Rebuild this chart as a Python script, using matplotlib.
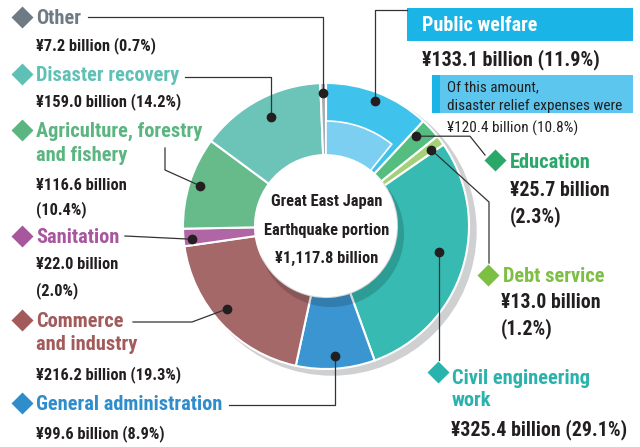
import matplotlib
matplotlib.use("Agg")
import matplotlib.pyplot as plt
import numpy as np
from matplotlib.patches import Circle, Rectangle

W, H = 640, 447

# data, clockwise from 12 o'clock
categories = ["Public welfare", "Education", "Debt service", "Civil engineering\nwork",
              "General administration", "Commerce\nand industry", "Sanitation",
              "Agriculture, forestry\nand fishery", "Disaster recovery", "Other"]
amounts = [133.1, 25.7, 13.0, 325.4, 99.6, 216.2, 22.0, 116.6, 159.0, 7.2]
shares = [11.9, 2.3, 1.2, 29.1, 8.9, 19.3, 2.0, 10.4, 14.2, 0.7]
total = 1117.8
relief_amount = 120.4
relief_share = 10.8

wedge_colors = ["#3fc3ec", "#55bd80", "#a5d07a", "#36bab2", "#3a95d0",
                "#a46869", "#b066a4", "#67bb8a", "#6cc3b8", "#a7aeb2"]
label_colors = ["#1ab5e6", "#2aa86a", "#7cbf42", "#2ab3ac", "#2f8dcc",
                "#a25a5b", "#a8569d", "#5bb580", "#5fc0b6", "#6e7b84"]

FONT = ["Roboto Condensed", "DejaVu Sans"]
DARK = "#231f20"

# layout (pixel coords, y down): diamond, text x, title baselines, value x, value baselines,
# value font size
layout = {
    1: dict(dia=(495, 160), tx=510, tys=[168], vx=510, vys=[196, 222], split=True, vs=14.3),
    2: dict(dia=(488, 275), tx=503, tys=[282], vx=501, vys=[308, 334], split=True, vs=14.3),
    3: dict(dia=(438, 372), tx=452, tys=[384, 406], vx=451, vys=[435], split=False, vs=14.3),
    4: dict(dia=(22, 403), tx=36, tys=[410], vx=36, vys=[438], split=False, vs=11.8),
    5: dict(dia=(22, 320), tx=36, tys=[327, 350], vx=36, vys=[379], split=False, vs=11.8),
    6: dict(dia=(22, 236), tx=36, tys=[243], vx=36, vys=[269, 295], split=True, vs=11.8),
    7: dict(dia=(22, 130), tx=36, tys=[137, 161], vx=36, vys=[190, 214], split=True, vs=11.8),
    8: dict(dia=(22, 74), tx=36, tys=[81], vx=36, vys=[106], split=False, vs=11.8),
    9: dict(dia=(22, 17), tx=36, tys=[24], vx=36, vys=[50], split=False, vs=11.8),
}
# dot radius, angle nudge, leader route (None = reuse dot coordinate)
leaders = {
    0: (134, 0, [(None, 10), (407, 10)]),
    1: (127, 2, [(470, None), (485, 155)]),
    2: (130, -1, [(489, 202), (489, 263)]),
    3: (116, 5, [(None, 360)]),
    4: (130, 0, [(None, 405), (229, 405)]),
    5: (129, -3, [(192, 322), (133, 322)]),
    6: (135, 1, [(125, 236)]),
    7: (132, 0, [(165, 170), (165, 148)]),
    8: (122, -1, [(None, 77), (185, 77)]),
    9: (133, 0, [(None, 17), (88, 17)]),
}


def Y(y):
    return H - y


fig = plt.figure(figsize=(6.4, 4.47), dpi=100)
ax = fig.add_axes([0, 0, 1, 1])

cx, cy = 326, Y(226)
r_out, r_in = 143, 71

ax.add_patch(Circle((cx + 6, cy - 5), r_out + 1, color="#cfd0d2", zorder=0.5))
wedges, _ = ax.pie(amounts, colors=wedge_colors, startangle=90, counterclock=False,
                   center=(cx, cy), radius=r_out,
                   wedgeprops=dict(width=r_out - r_in, edgecolor="white", linewidth=1.5))
sub, _ = ax.pie([relief_amount, total - relief_amount], colors=["#7ccff1", "white"],
                startangle=90, counterclock=False, center=(cx, cy), radius=105,
                wedgeprops=dict(width=105 - r_in, edgecolor="white", linewidth=1.2))
sub[1].set_visible(False)

# inner hole with shadow
ax.add_patch(Circle((cx + 5, cy - 8), r_in + 2, color="black", alpha=0.16, lw=0, zorder=3))
ax.add_patch(Circle((cx, cy), r_in, color="white", lw=0, zorder=4))

ax.set_xlim(0, W)
ax.set_ylim(0, H)
ax.set_aspect("equal")
ax.axis("off")

for txt, by in zip(["Great East Japan", "Earthquake portion", f"¥{total:,.1f} billion"],
                   [206, 235, 263]):
    ax.text(327, Y(by), txt, ha="center", va="baseline", fontsize=11.8,
            fontweight="bold", family=FONT, color=DARK, zorder=5)

# leader lines and dots
for i, (r, nudge, route) in leaders.items():
    w = wedges[i]
    ang = np.deg2rad((w.theta1 + w.theta2) / 2 + nudge)
    dx, dy = cx + r * np.cos(ang), cy + r * np.sin(ang)
    xs, ys = [dx], [dy]
    for px, py in route:
        xs.append(dx if px is None else px)
        ys.append(dy if py is None else Y(py))
    ax.plot(xs, ys, color="#333333", lw=0.9, zorder=6)
    ax.plot(dx, dy, "o", color=DARK, ms=6, zorder=7)

# category labels
for i, lay in layout.items():
    ax.plot(lay["dia"][0], Y(lay["dia"][1]), "D", color=label_colors[i], ms=11,
            mec="none", zorder=6)
    for line, by in zip(categories[i].split("\n"), lay["tys"]):
        ax.text(lay["tx"], Y(by), line, ha="left", va="baseline", fontsize=14.7,
                fontweight="bold", family=FONT, color=label_colors[i])
    if lay["split"]:
        vlines = [f"¥{amounts[i]:.1f} billion", f"({shares[i]:.1f}%)"]
    else:
        vlines = [f"¥{amounts[i]:.1f} billion ({shares[i]:.1f}%)"]
    for line, by in zip(vlines, lay["vys"]):
        ax.text(lay["vx"], Y(by), line, ha="left", va="baseline", fontsize=lay["vs"],
                fontweight="bold", family=FONT, color=DARK)

# public welfare header boxes
ax.add_patch(Rectangle((407, Y(41)), 226, 33, color=label_colors[0], lw=0))
ax.text(422, Y(31), categories[0], ha="left", va="baseline", fontsize=14.5,
        fontweight="bold", family=FONT, color="white")
ax.text(422, Y(65), f"¥{amounts[0]:.1f} billion ({shares[0]:.1f}%)", ha="left",
        va="baseline", fontsize=14.5, fontweight="bold", family=FONT, color=DARK)
ax.add_patch(Rectangle((432, Y(113)), 201, 38, color="#5cc6ee", lw=0))
ax.add_patch(Rectangle((432, Y(113)), 8, 38, color="#1ab5e6", lw=0))
ax.text(447, Y(91), "Of this amount,", ha="left", va="baseline", fontsize=11,
        family=FONT, color=DARK)
ax.text(447, Y(110), "disaster relief expenses were", ha="left", va="baseline",
        fontsize=11, family=FONT, color=DARK)
ax.text(447, Y(133), f"¥{relief_amount:.1f} billion ({relief_share:.1f}%)", ha="left",
        va="baseline", fontsize=11, family=FONT, color=DARK)

fig.savefig("out.png", dpi=100)
